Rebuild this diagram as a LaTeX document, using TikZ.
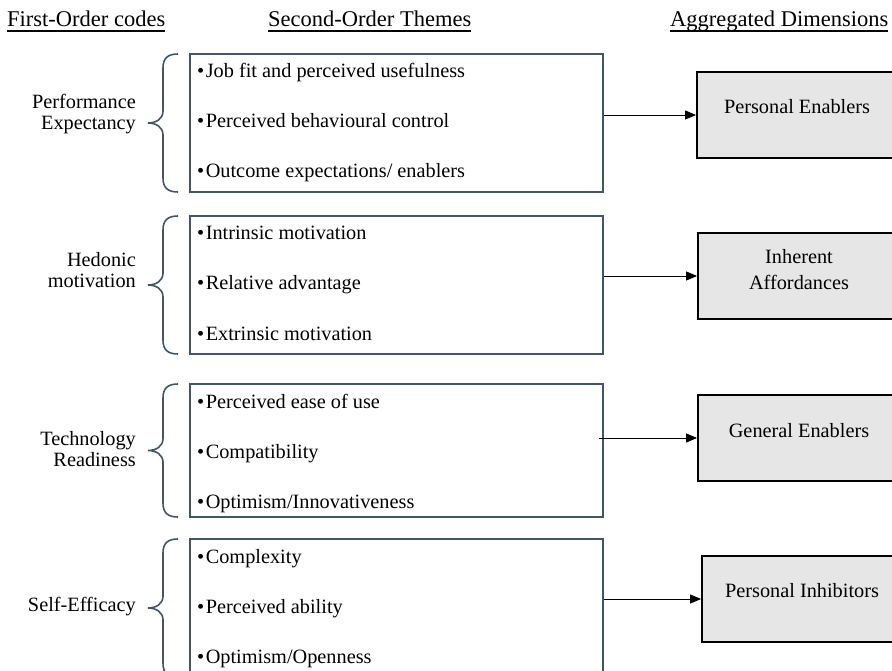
\documentclass[tikz,border=0pt]{standalone}
\usepackage{fontspec}
\setmainfont{Liberation Serif}
\usetikzlibrary{arrows.meta}
\definecolor{slate}{HTML}{44546A}
\definecolor{dimfill}{HTML}{E7E6E6}
\begin{document}
\begin{tikzpicture}[x=1pt,y=-1pt,
  hdr/.style={inner sep=0,font=\fontsize{22.5}{24}\selectfont},
  txt/.style={inner sep=0,font=\fontsize{20.3}{21}\selectfont},
  themebox/.style={draw=slate,line width=1.6pt,minimum width=413pt,inner sep=0},
  dimbox/.style={draw=black,fill=dimfill,line width=1.8pt,minimum width=203pt,minimum height=86pt,inner sep=0},
  brace/.style={draw=slate,line width=1.6pt},
  uline/.style={line width=1.6pt},
  arr/.style={-{Triangle[length=11pt,width=9pt]},line width=0.9pt}]
\useasboundingbox (0,0) rectangle (892,671);
% column headings
\node[hdr,anchor=base west] (h1) at (7,27) {First-Order codes};
\node[hdr,anchor=base west] (h2) at (268,27) {Second-Order Themes};
\node[hdr,anchor=base west] (h3) at (670,27) {Aggregated Dimensions};
\foreach \h in {h1,h2,h3}{\draw[uline]([yshift=-4pt]\h.base west)--([yshift=-4pt]\h.base east);}
% second-order boxes, items and braces
\foreach \n/\t/\ht/\a/\b/\c in {1/54/138/{Job fit and perceived usefulness}/{Perceived behavioural control}/{Outcome expectations/ enablers},
  2/216/138/{Intrinsic motivation}/{Relative advantage}/{Extrinsic motivation},
  3/384/133/{Perceived ease of use}/{Compatibility}/{Optimism/Innovativeness},
  4/539/138/{Complexity}/{Perceived ability}/{Optimism/Openness}}{
  \node[themebox,minimum height=\ht pt] (th\n) at (396.5,\t+\ht/2) {};
  \node[txt,anchor=base west] (it\n-a) at (197,\t+24) {\textbullet\kern1.5pt\a};
  \node[txt,anchor=base west] (it\n-b) at (197,\t+74) {\textbullet\kern1.5pt\b};
  \node[txt,anchor=base west] (it\n-c) at (197,\t+124) {\textbullet\kern1.5pt\c};
  \draw[brace](178,\t) .. controls (168,\t) and (163,\t+4) .. (163,\t+14)--(163,\t+\ht/2-12)
    .. controls (163,\t+\ht/2-4) and (156,\t+\ht/2) .. (148,\t+\ht/2)
    .. controls (156,\t+\ht/2) and (163,\t+\ht/2+4) .. (163,\t+\ht/2+12)--(163,\t+\ht-14)
    .. controls (163,\t+\ht-4) and (168,\t+\ht) .. (178,\t+\ht);
}
% first-order codes
\node[txt,align=right,anchor=north east] (fo1) at (136,94) {Performance\\Expectancy};
\node[txt,align=right,anchor=north east] (fo2) at (136,252) {Hedonic\\motivation};
\node[txt,align=right,anchor=north east] (fo3) at (136,431) {Technology\\Readiness};
\node[txt,anchor=base east] (fo4) at (136,611) {Self-Efficacy};
% aggregated dimensions
\node[dimbox] (dim1) at (798.5,115) {};
\node[txt,anchor=base] (dim1t) at (797,114) {Personal Enablers};
\node[dimbox] (dim2) at (799.5,276) {};
\node[txt,align=center,anchor=north,font=\fontsize{20.3}{26}\selectfont] (dim2t) at (799,249) {Inherent\\Affordances};
\node[dimbox] (dim3) at (799.5,438) {};
\node[txt,anchor=base] (dim3t) at (799,437) {General Enablers};
\node[dimbox] (dim4) at (803.5,599) {};
\node[txt,anchor=base] (dim4t) at (802,597) {Personal Inhibitors};
\draw[arr](th1.east |- dim1.west)--(dim1.west);
\draw[arr](th2.east |- dim2.west)--(dim2.west);
\draw[arr]([xshift=-5pt]th3.east |- dim3.west)--(dim3.west);
\draw[arr](th4.east |- dim4.west)--(dim4.west);
\end{tikzpicture}
\end{document}
